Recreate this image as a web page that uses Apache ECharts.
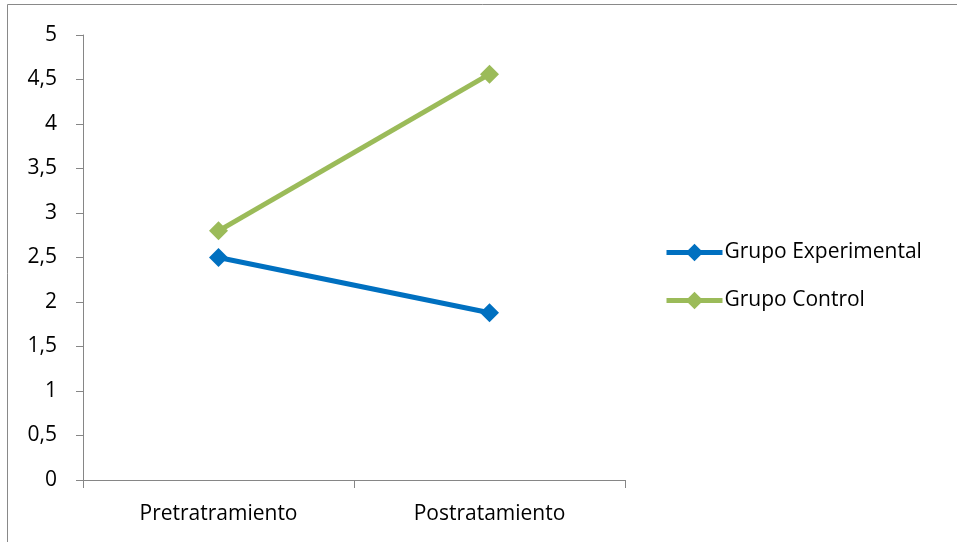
<!DOCTYPE html>
<html>
<head>
<meta charset="utf-8">
<script src="https://cdn.jsdelivr.net/npm/echarts@6/dist/echarts.min.js"></script>
<style>
html,body{margin:0;padding:0;background:#fff;}
#c{width:957px;height:542px;}
</style>
</head>
<body>
<div id="c"></div>
<script>
var categories = ['Pretratramiento', 'Postratamiento'];
var grupoExperimental = [2.5, 1.88];
var grupoControl = [2.8, 4.56];
var seriesNames = ['Grupo Experimental', 'Grupo Control'];

var chart = echarts.init(document.getElementById('c'));
var font = 'Open Sans';
chart.setOption({
  animation: false,
  backgroundColor: '#fff',
  graphic: [{
    type: 'rect',
    shape: {x: 7.5, y: 4.5, width: 1200, height: 1200},
    style: {fill: 'none', stroke: '#898989', lineWidth: 1},
    silent: true
  }],
  grid: {left: 83, right: 332, top: 35, bottom: 62, containLabel: false},
  legend: {
    orient: 'vertical',
    left: 664,
    top: 242,
    padding: 0,
    itemWidth: 56,
    itemHeight: 22,
    itemGap: 27,
    lineStyle: {width: 5},
    textStyle: {fontFamily: font, fontSize: 21, color: '#000', padding: [0, 0, 0, -3]},
    data: seriesNames
  },
  xAxis: {
    type: 'category',
    data: categories,
    boundaryGap: true,
    axisLine: {lineStyle: {color: '#868686', width: 1}},
    axisTick: {show: true, length: 8, lineStyle: {color: '#868686'}},
    axisLabel: {fontFamily: font, fontSize: 21, color: '#000', margin: 24}
  },
  yAxis: {
    type: 'value',
    min: 0, max: 5, interval: 0.5,
    axisLine: {show: true, lineStyle: {color: '#868686', width: 1}},
    axisTick: {show: true, length: 7, lineStyle: {color: '#868686'}},
    splitLine: {show: false},
    axisLabel: {
      fontFamily: font, fontSize: 21, color: '#000', margin: 26,
      formatter: function (v) { return String(v).replace('.', ','); }
    }
  },
  series: [{
    name: seriesNames[0],
    type: 'line',
    data: grupoExperimental,
    symbol: 'diamond',
    symbolSize: 19,
    lineStyle: {width: 5, color: '#0070C0'},
    itemStyle: {color: '#0070C0'}
  }, {
    name: seriesNames[1],
    type: 'line',
    data: grupoControl,
    symbol: 'diamond',
    symbolSize: 19,
    lineStyle: {width: 5, color: '#9BBB59'},
    itemStyle: {color: '#9BBB59'}
  }]
});
</script>
</body>
</html>
